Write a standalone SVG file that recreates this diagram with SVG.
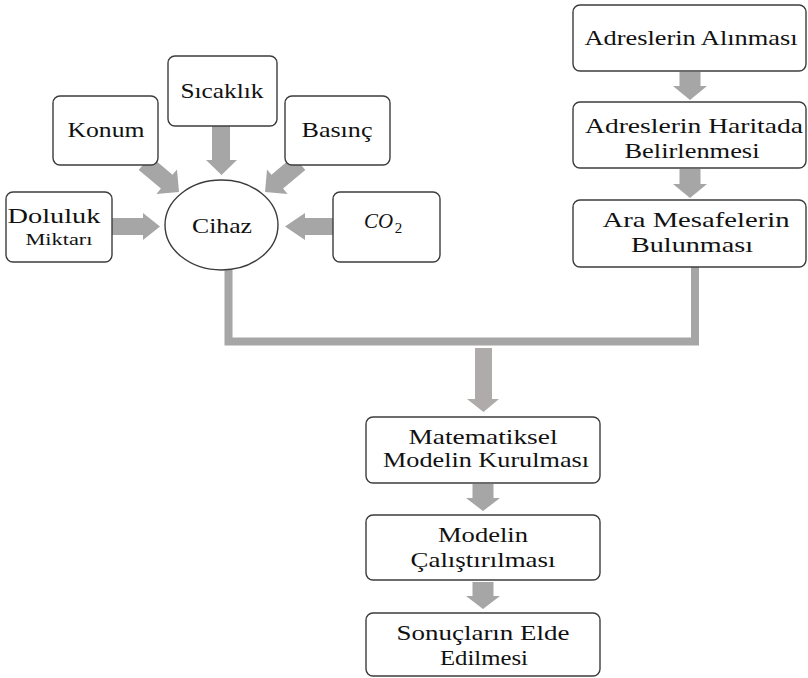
<svg xmlns="http://www.w3.org/2000/svg" width="808" height="678" viewBox="0 0 808 678">
  <style>
    .box { fill: #ffffff; stroke: #3c3c3c; stroke-width: 1.4; }
    .arr { fill: #a6a6a6; }
    .big { fill: #afabab; }
    .wire { fill: none; stroke: #a6a6a6; stroke-width: 8; stroke-linejoin: miter; stroke-linecap: butt; }
    .lbl { font-family: 'Liberation Serif', 'Times New Roman', Times, serif; font-size: 22px; fill: #111111; text-anchor: middle; }
    .small { font-size: 17px; }
    .math { font-style: italic; text-anchor: start; }
  </style>

  <!-- connectors: block arrows and the joining bar -->
  <g id="connectors">
    <!-- sensors into the device -->
    <polygon class="arr" points="212,124 230,124 230,160 237,160 221.5,175 206,160 212,160"/>
    <polygon class="arr" points="0,-9 29,-9 29,-16 45,0 29,16 29,9 0,9" transform="translate(144.5,163) rotate(40)"/>
    <polygon class="arr" points="0,-9 29,-9 29,-16 45,0 29,16 29,9 0,9" transform="translate(299.5,163) rotate(140)"/>
    <polygon class="arr" points="110,218 143,218 143,213 160,226.5 143,240 143,235 110,235"/>
    <polygon class="arr" points="335,218 305,218 305,213 285,226.5 305,240 305,235 335,235"/>

    <!-- address chain -->
    <polygon class="arr" points="679.5,72 700.5,72 700.5,86 707,86 690,100 673,86 679.5,86"/>
    <polygon class="arr" points="679.5,169 700.5,169 700.5,184 707,184 690,198 673,184 679.5,184"/>

    <!-- joining bar -->
    <polyline class="wire" points="228.5,268 228.5,341.5 695,341.5 695,266"/>
    <polygon class="big" points="475,348 492,348 492,399 499,399 483.5,412 467,399 475,399"/>

    <!-- model chain -->
    <polygon class="arr" points="472.5,484 493.5,484 493.5,498 500,498 483,511 466,498 472.5,498"/>
    <polygon class="arr" points="472.5,582 493.5,582 493.5,596 500,596 483,609 466,596 472.5,596"/>
  </g>

  <g font-family="Liberation Serif, serif">
  <g id="sicaklik">
    <rect class="box" x="168" y="56" width="109" height="70" rx="7"/>
    <text class="lbl" x="222" y="98" textLength="83" lengthAdjust="spacingAndGlyphs">Sıcaklık</text>
  </g>
  <g id="konum">
    <rect class="box" x="53" y="96" width="105" height="69" rx="7"/>
    <text class="lbl" x="106" y="137" textLength="77" lengthAdjust="spacingAndGlyphs">Konum</text>
  </g>
  <g id="basinc">
    <rect class="box" x="285" y="96" width="105" height="69" rx="7"/>
    <text class="lbl" x="337" y="137" textLength="71" lengthAdjust="spacingAndGlyphs">Basınç</text>
  </g>
  <g id="doluluk">
    <rect class="box" x="6" y="192" width="106" height="70" rx="7"/>
    <text class="lbl" x="54" y="223" textLength="93" lengthAdjust="spacingAndGlyphs">Doluluk</text>
    <text class="lbl small" x="59" y="245" textLength="67" lengthAdjust="spacingAndGlyphs">Miktarı</text>
  </g>
  <g id="co2">
    <rect class="box" x="333" y="192" width="107" height="70" rx="7"/>
    <text class="lbl math" x="364" y="228" textLength="29" lengthAdjust="spacingAndGlyphs">CO</text>
    <text class="lbl" x="398.5" y="233" style="font-size:15px">2</text>
  </g>
  <g id="cihaz">
    <ellipse class="box" cx="221.5" cy="225" rx="56.5" ry="45"/>
    <text class="lbl" x="222" y="233" textLength="60" lengthAdjust="spacingAndGlyphs">Cihaz</text>
  </g>

  <g id="adres-alinmasi">
    <rect class="box" x="573" y="5" width="233" height="66" rx="7"/>
    <text class="lbl" x="691" y="44.5" textLength="213" lengthAdjust="spacingAndGlyphs">Adreslerin Alınması</text>
  </g>
  <g id="adres-harita">
    <rect class="box" x="573" y="102" width="233" height="66" rx="7"/>
    <text class="lbl" x="694" y="133" textLength="218" lengthAdjust="spacingAndGlyphs">Adreslerin Haritada</text>
    <text class="lbl" x="692" y="158" textLength="135" lengthAdjust="spacingAndGlyphs">Belirlenmesi</text>
  </g>
  <g id="ara-mesafe">
    <rect class="box" x="573" y="200" width="233" height="67" rx="7"/>
    <text class="lbl" x="696" y="227" textLength="187" lengthAdjust="spacingAndGlyphs">Ara Mesafelerin</text>
    <text class="lbl" x="692" y="252" textLength="122" lengthAdjust="spacingAndGlyphs">Bulunması</text>
  </g>

  <g id="model-kurulmasi">
    <rect class="box" x="366" y="417" width="234" height="66" rx="7"/>
    <text class="lbl" x="483" y="444" textLength="149" lengthAdjust="spacingAndGlyphs">Matematiksel</text>
    <text class="lbl" x="486" y="467" textLength="206" lengthAdjust="spacingAndGlyphs">Modelin Kurulması</text>
  </g>
  <g id="model-calistirma">
    <rect class="box" x="366" y="515" width="234" height="65" rx="7"/>
    <text class="lbl" x="483" y="542" textLength="90" lengthAdjust="spacingAndGlyphs">Modelin</text>
    <text class="lbl" x="483" y="567" textLength="145" lengthAdjust="spacingAndGlyphs">Çalıştırılması</text>
  </g>
  <g id="sonuclar">
    <rect class="box" x="366" y="613" width="234" height="63" rx="7"/>
    <text class="lbl" x="483" y="640" textLength="173" lengthAdjust="spacingAndGlyphs">Sonuçların Elde</text>
    <text class="lbl" x="484" y="665" textLength="88" lengthAdjust="spacingAndGlyphs">Edilmesi</text>
  </g>
  </g>
</svg>
